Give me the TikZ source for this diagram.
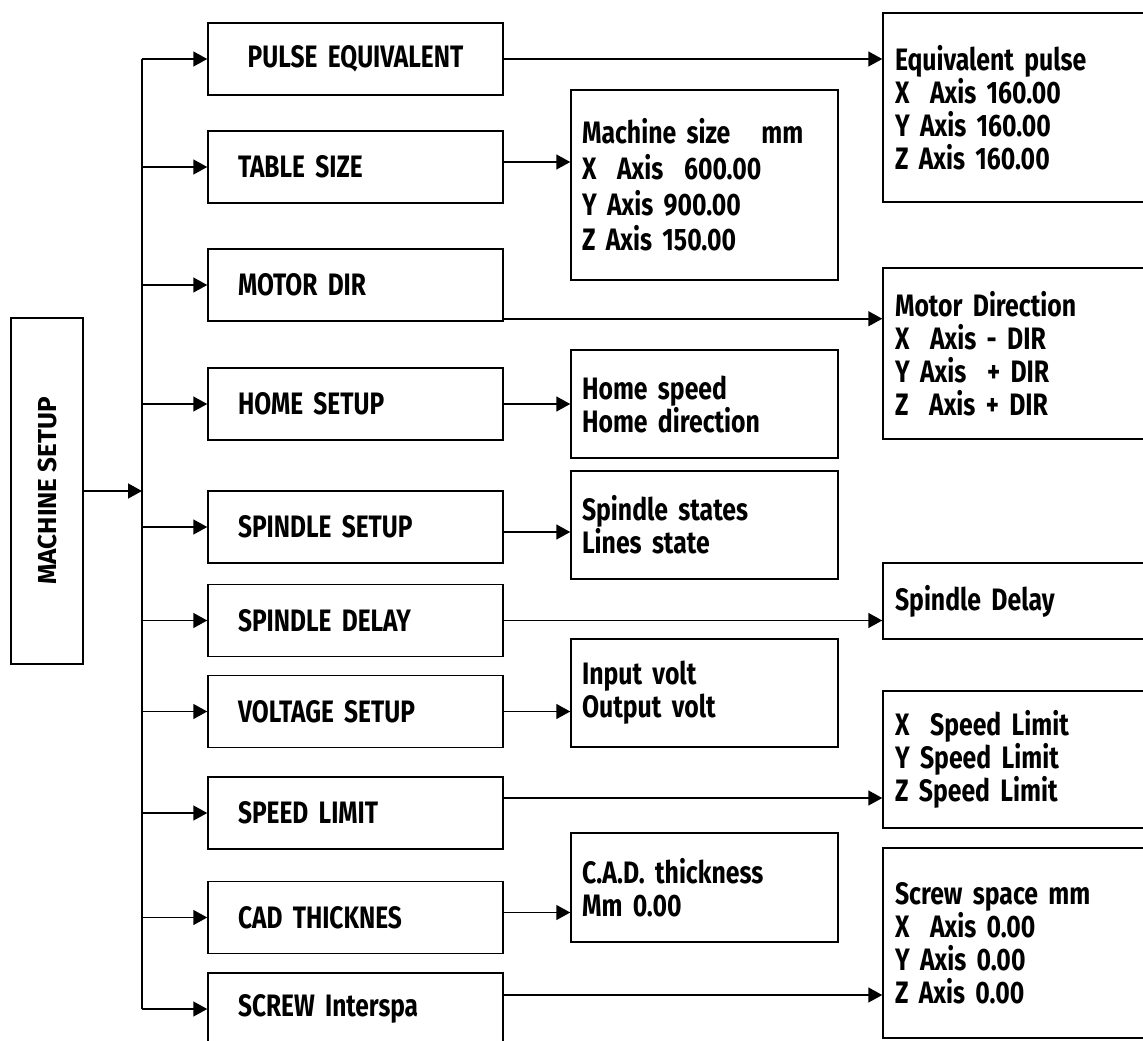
\documentclass[tikz,border=0pt]{standalone}
\usepackage{fontspec}
\usepackage{tikz}
\usetikzlibrary{arrows.meta}
\setmainfont{Fira Sans}
\newfontfamily\menufont{Fira Sans}[FakeStretch=0.79]
\newfontfamily\valfont{Fira Sans}[FakeStretch=0.8]

\begin{document}
\begin{tikzpicture}[x=1pt, y=-1pt,
  menu/.style={draw, line width=1.5pt, minimum width=295pt, minimum height=72pt,
    text width=235pt, inner xsep=30pt, align=left,
    font=\menufont\bfseries\fontsize{31}{33}\selectfont},
  root/.style={draw, line width=1.5pt, minimum width=72pt, minimum height=346pt,
    inner sep=0pt, font=\bfseries\fontsize{26}{30}\selectfont},
  valA/.style={draw, line width=1.5pt, minimum width=267pt, text width=245pt,
    inner xsep=11pt, align=left, font=\valfont\bfseries\fontsize{31}{33}\selectfont},
  valB/.style={draw, line width=1.5pt, minimum width=300pt, text width=276pt,
    inner xsep=12pt, align=left, font=\valfont\bfseries\fontsize{31}{33}\selectfont},
  arr/.style={line width=1.5pt, -{Triangle[length=14pt, width=15pt]}},
  wire/.style={line width=1.5pt}]
  \useasboundingbox (0,0) rectangle (1143,1041);

  % Main box
  \node[root] (ms) at (47,491) {\rotatebox{90}{MACHINE SETUP}};
  \coordinate (bt) at (142,0);

  % Setup items
  \node[menu, align=center] (pe) at (355.5,59) {PULSE EQUIVALENT};
  \node[menu] (ts) at (355.5,167) {TABLE SIZE};
  \node[menu] (md) at (355.5,285) {MOTOR DIR};
  \node[menu] (hs) at (355.5,404) {HOME SETUP};
  \node[menu] (ss) at (355.5,527) {SPINDLE SETUP};
  \node[menu] (sd) at (355.5,620.5) {SPINDLE DELAY};
  \node[menu] (vs) at (355.5,711.5) {VOLTAGE SETUP};
  \node[menu] (sl) at (355.5,813) {SPEED LIMIT};
  \node[menu] (cad) at (355.5,917.5) {CAD THICKNES};
  \node[menu] (sc) at (355.5,1009) {SCREW Interspa};

  % Values, first column
  \node[valA, minimum height=190pt, font=\valfont\bfseries\fontsize{31}{35.7}\selectfont] (msz) at (704.5,185)
    {Machine size\ \ \ mm\\X\ \ Axis\ \ 600.00\\Y Axis 900.00\\Z Axis 150.00};
  \node[valA, minimum height=108pt] (hsp) at (704.5,404) {Home speed\\Home direction};
  \node[valA, minimum height=108pt] (sst) at (704.5,525) {Spindle states\\Lines state};
  \node[valA, minimum height=108pt] (vlt) at (704.5,693) {Input volt\\Output volt};
  \node[valA, minimum height=109pt] (cadt) at (704.5,887.5) {C.A.D. thickness\\Mm 0.00};

  % Values, second column
  \node[valB, minimum height=189pt] (eqp) at (1033,107.5)
    {Equivalent pulse\\X\ \ Axis 160.00\\Y Axis 160.00\\Z Axis 160.00};
  \node[valB, minimum height=171pt] (mdir) at (1033,353.5)
    {Motor Direction\\X\ \ Axis - DIR\\Y Axis\ \ + DIR\\Z\ \ Axis + DIR};
  \node[valB, minimum height=76pt] (sdl) at (1033,601) {Spindle Delay};
  \node[valB, minimum height=137pt] (slim) at (1033,759.5)
    {X\ \ Speed Limit\\Y Speed Limit\\Z Speed Limit};
  \node[valB, minimum height=190pt] (scr) at (1033,943)
    {Screw space mm\\X\ \ Axis 0.00\\Y Axis 0.00\\Z Axis 0.00};

  % Bus and branches
  \draw[arr] (ms.east) -- (bt |- ms.east);
  \draw[wire] (bt |- pe.west) -- (bt |- sc.west);
  \foreach \n in {pe,ts,md,hs,ss,sd,vs,sl,cad,sc}
    \draw[arr] (bt |- \n.west) -- (\n.west);

  % Links to values
  \draw[arr] (pe.east) -- (pe.east -| eqp.west);
  \draw[arr] ([yshift=5pt]ts.east) -- ([yshift=5pt]ts.east -| msz.west);
  \draw[arr] ([yshift=3pt]md.south east) -- ([yshift=3pt]md.south east -| mdir.west);
  \draw[arr] (hs.east) -- (hs.east -| hsp.west);
  \draw[arr] ([yshift=-5pt]ss.east) -- ([yshift=-5pt]ss.east -| sst.west);
  \draw[arr] (sd.east) -- (sd.east -| sdl.west);
  \draw[arr] (vs.east) -- (vs.east -| vlt.west);
  \draw[arr] ([yshift=15pt]sl.east) -- ([yshift=15pt]sl.east -| slim.west);
  \draw[arr] ([yshift=5pt]cad.east) -- ([yshift=5pt]cad.east -| cadt.west);
  \draw[arr] ([yshift=14pt]sc.east) -- ([yshift=14pt]sc.east -| scr.west);
\end{tikzpicture}
\end{document}
